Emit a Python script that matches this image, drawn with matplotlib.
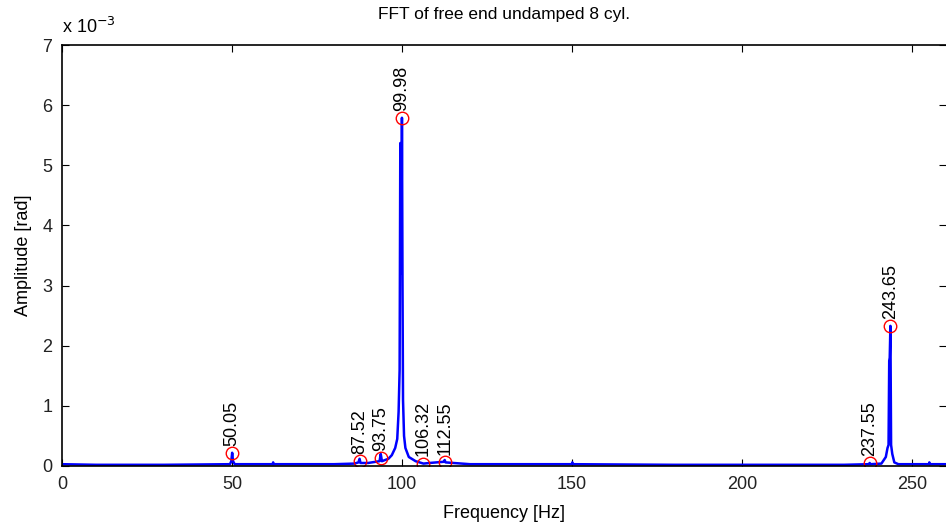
import matplotlib.pyplot as plt

plt.rcParams['font.family'] = ['Liberation Sans', 'DejaVu Sans']

# spectrum samples, amplitude in units of 1e-3 rad
freq = [0, 10, 30, 49.4, 49.8, 50.05, 50.3, 50.8, 62, 62.1, 62.2, 80, 86, 87.2, 87.52, 87.8, 90,
        93.4, 93.75, 94.1, 96, 97, 98, 98.6, 99.0, 99.3, 99.5, 99.6, 99.7, 99.8, 99.9, 99.98,
        100.05, 100.15, 100.3, 100.6, 101, 102, 104, 106.32, 108, 112.3, 112.55, 112.8, 120,
        150, 150.1, 150.2, 180, 200, 230, 237.3, 237.55, 237.8, 241, 242.3, 242.8, 243.1, 243.3,
        243.45, 243.65, 243.85, 244.2, 244.8, 246, 255, 255.1, 255.2, 260]
amp = [0.03, 0.02, 0.02, 0.03, 0.08, 0.22, 0.08, 0.03, 0.03, 0.06, 0.03, 0.03, 0.04, 0.06, 0.12, 0.05, 0.05,
       0.08, 0.2, 0.08, 0.12, 0.18, 0.3, 0.45, 0.9, 1.6, 5.37, 3.2, 4.7, 4.9, 4.2, 5.79,
       4.7, 3.0, 1.1, 0.5, 0.3, 0.15, 0.08, 0.04, 0.05, 0.07, 0.1, 0.06, 0.03,
       0.03, 0.06, 0.03, 0.02, 0.02, 0.02, 0.03, 0.05, 0.03, 0.04, 0.15, 0.3, 0.35, 1.75,
       1.8, 2.33, 0.35, 0.2, 0.06, 0.03, 0.03, 0.06, 0.03, 0.03]

# picked peaks
peak_f = [50.05, 87.52, 93.75, 99.98, 106.32, 112.55, 237.55, 243.65]
peak_a = [0.22, 0.08, 0.13, 5.79, 0.04, 0.07, 0.05, 2.33]

fig = plt.figure(figsize=(9.46, 5.29), dpi=100)
ax = fig.add_axes([62 / 946, 63 / 529, 884 / 946, 421 / 529])

ax.plot(freq, amp, color='blue', lw=1.8)
ax.plot(peak_f, peak_a, 'o', mfc='none', mec='red', ms=9, mew=1)
for f, a in zip(peak_f, peak_a):
    ax.text(f, a + 0.12, '%.2f' % f, rotation=90, ha='center', va='bottom', fontsize=13)

ax.set_xlim(0, 260)
ax.set_ylim(0, 7)
ax.set_xticks([0, 50, 100, 150, 200, 250])
ax.set_yticks(range(8))
ax.tick_params(direction='in', top=True, right=True, labelsize=13, length=5, pad=7,
               labelcolor='#222222')
for s in ax.spines.values():
    s.set_linewidth(1.2)
ax.spines['right'].set_visible(False)

ax.set_xlabel('Frequency [Hz]', fontsize=13, labelpad=9)
ax.set_ylabel('Amplitude [rad]', fontsize=13, labelpad=7)
ax.set_title('FFT of free end undamped 8 cyl.', fontsize=12.5, pad=19)
fig.text(62 / 946, 1 - 27 / 529, r'x 10$^{-3}$', fontsize=13, va='center')

fig.savefig('out.png', dpi=100)
